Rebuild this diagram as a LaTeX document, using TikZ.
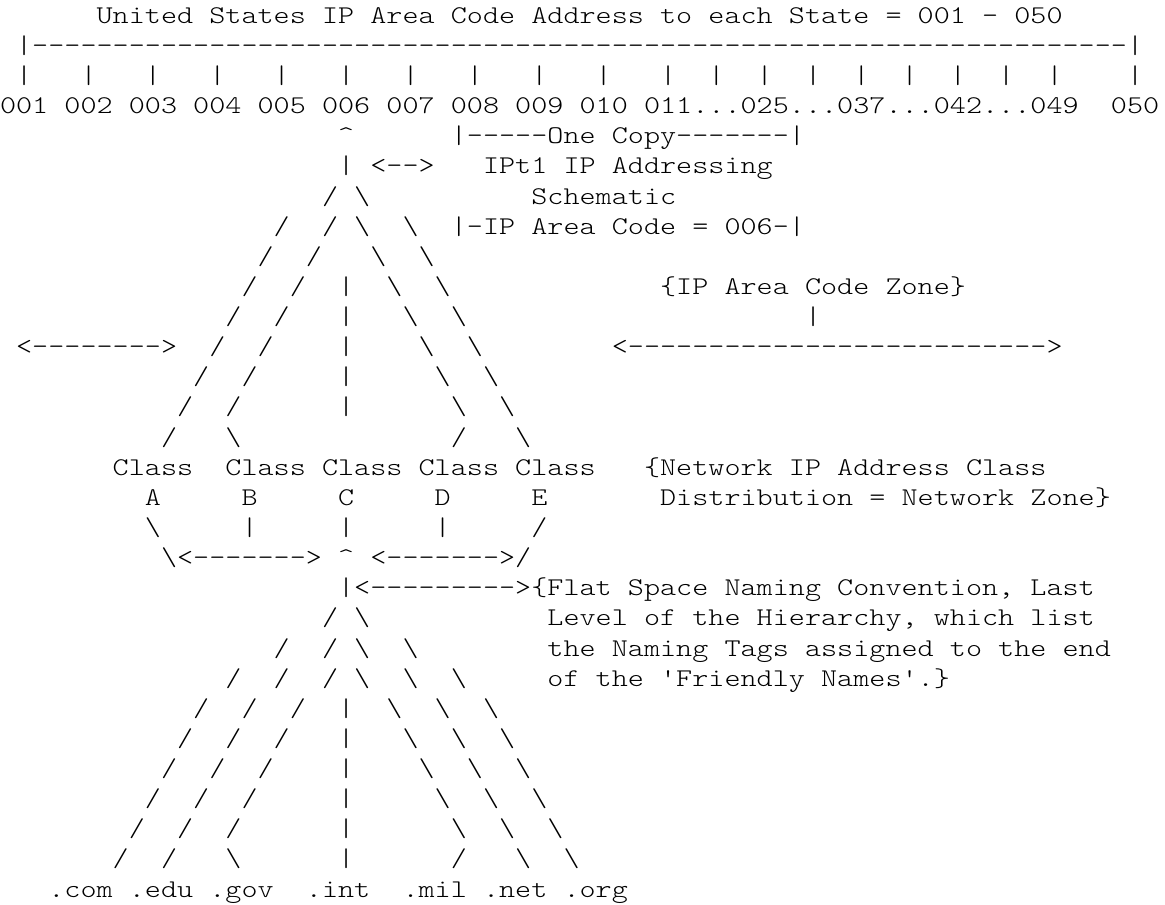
\documentclass[tikz,border=0pt]{standalone}
\usepackage{graphicx}
\usepackage{fontspec}
\setmonofont{lmmonolt10-regular.otf}
\newlength\cellw
\setlength\cellw{16.1pt}
\newcommand\gp[1]{\hspace*{#1\cellw}}
\newcommand\bsl{\textbackslash}
\newcommand\crt{\textasciicircum}
\makeatletter
\def\mrow@end{}
\def\mrow#1{\mrow@#1\mrow@end}
\def\mrow@#1{%
  \ifx#1\mrow@end\let\mrow@next\relax
  \else\ifx#1\gp\let\mrow@next\mrow@skip
  \else\def\mrow@next{\mrow@char{#1}}\fi\fi
  \mrow@next}
\def\mrow@skip#1{\hspace*{#1\cellw}\mrow@}
\def\mrow@char#1{\ifx#1~\hspace*{\cellw}\else\makebox[\cellw]{\scalebox{1.2}[1]{#1}}\fi\mrow@}
\makeatother
\tikzset{asc/.style={anchor=base west,inner sep=0pt,outer sep=0pt,text=black,
  font=\ttfamily\fontsize{25.5pt}{30.13pt}\selectfont}}
\begin{document}
\begin{tikzpicture}[x=1pt,y=1pt]
\fill[white] (0,0) rectangle (1165,905);
\useasboundingbox (0,0) rectangle (1165,905);
\node[asc] (r1) at (0,881.70) {\mrow{\gp{6}United~States~IP~Area~Code~Address~to~each~State~=~001~-~050}};
\node[asc] (r2) at (0,851.57) {\mrow{~|--------------------------------------------------------------------|}};
\node[asc] (r3) at (0,821.44) {\mrow{~|\gp{3}|\gp{3}|\gp{3}|\gp{3}|\gp{3}|\gp{3}|\gp{3}|\gp{3}|\gp{3}|\gp{3}|\gp{2}|\gp{2}|\gp{2}|\gp{2}|\gp{2}|\gp{2}|\gp{2}|\gp{2}|\gp{4}|}};
\node[asc] (r4) at (0,791.31) {\mrow{001~002~003~004~005~006~007~008~009~010~011...025...037...042...049\gp{2}050}};
\node[asc] (r5) at (0,761.18) {\mrow{\gp{21}\crt\gp{6}|-----One~Copy-------|}};
\node[asc] (r6) at (0,731.05) {\mrow{\gp{21}|~<-->\gp{3}IPt1~IP~Addressing}};
\node[asc] (r7) at (0,700.92) {\mrow{\gp{20}/~\bsl\gp{10}Schematic}};
\node[asc] (r8) at (0,670.79) {\mrow{\gp{17}/\gp{2}/~\bsl\gp{2}\bsl\gp{2}|-IP~Area~Code~=~006-|}};
\node[asc] (r9) at (0,640.66) {\mrow{\gp{16}/\gp{2}/\gp{3}\bsl\gp{2}\bsl}};
\node[asc] (r10) at (0,610.53) {\mrow{\gp{15}/\gp{2}/\gp{2}|\gp{2}\bsl\gp{2}\bsl\gp{13}\{IP~Area~Code~Zone\}}};
\node[asc] (r11) at (0,580.40) {\mrow{\gp{14}/\gp{2}/\gp{3}|\gp{3}\bsl\gp{2}\bsl\gp{21}|}};
\node[asc] (r12) at (0,550.27) {\mrow{~<-------->\gp{2}/\gp{2}/\gp{4}|\gp{4}\bsl\gp{2}\bsl\gp{8}<-------------------------->}};
\node[asc] (r13) at (0,520.14) {\mrow{\gp{12}/\gp{2}/\gp{5}|\gp{5}\bsl\gp{2}\bsl}};
\node[asc] (r14) at (0,490.01) {\mrow{\gp{11}/\gp{2}/\gp{6}|\gp{6}\bsl\gp{2}\bsl}};
\node[asc] (r15) at (0,459.88) {\mrow{\gp{10}/\gp{3}\bsl\gp{13}/\gp{3}\bsl}};
\node[asc] (r16) at (0,429.75) {\mrow{\gp{7}Class\gp{2}Class~Class~Class~Class\gp{3}\{Network~IP~Address~Class}};
\node[asc] (r17) at (0,399.62) {\mrow{\gp{9}A\gp{5}B\gp{5}C\gp{5}D\gp{5}E\gp{7}Distribution~=~Network~Zone\}}};
\node[asc] (r18) at (0,369.49) {\mrow{\gp{9}\bsl\gp{5}|\gp{5}|\gp{5}|\gp{5}/}};
\node[asc] (r19) at (0,339.36) {\mrow{\gp{10}\bsl<------->~\crt~<------->/}};
\node[asc] (r20) at (0,309.23) {\mrow{\gp{21}|<--------->\{Flat~Space~Naming~Convention,~Last}};
\node[asc] (r21) at (0,279.10) {\mrow{\gp{20}/~\bsl\gp{11}Level~of~the~Hierarchy,~which~list}};
\node[asc] (r22) at (0,248.97) {\mrow{\gp{17}/\gp{2}/~\bsl\gp{2}\bsl\gp{8}the~Naming~Tags~assigned~to~the~end}};
\node[asc] (r23) at (0,218.84) {\mrow{\gp{14}/\gp{2}/\gp{2}/~\bsl\gp{2}\bsl\gp{2}\bsl\gp{5}of~the~'Friendly~Names'.\}}};
\node[asc] (r24) at (0,188.71) {\mrow{\gp{12}/\gp{2}/\gp{2}/\gp{2}|\gp{2}\bsl\gp{2}\bsl\gp{2}\bsl}};
\node[asc] (r25) at (0,158.58) {\mrow{\gp{11}/\gp{2}/\gp{2}/\gp{3}|\gp{3}\bsl\gp{2}\bsl\gp{2}\bsl}};
\node[asc] (r26) at (0,128.45) {\mrow{\gp{10}/\gp{2}/\gp{2}/\gp{4}|\gp{4}\bsl\gp{2}\bsl\gp{2}\bsl}};
\node[asc] (r27) at (0,98.32) {\mrow{\gp{9}/\gp{2}/\gp{2}/\gp{5}|\gp{5}\bsl\gp{2}\bsl\gp{2}\bsl}};
\node[asc] (r28) at (0,68.19) {\mrow{\gp{8}/\gp{2}/\gp{2}/\gp{6}|\gp{6}\bsl\gp{2}\bsl\gp{2}\bsl}};
\node[asc] (r29) at (0,38.06) {\mrow{\gp{7}/\gp{2}/\gp{3}\bsl\gp{6}|\gp{6}/\gp{3}\bsl\gp{2}\bsl}};
\node[asc] (r30) at (0,7.93) {\mrow{\gp{3}.com~.edu~.gov\gp{2}.int\gp{2}.mil~.net~.org}};
\end{tikzpicture}
\end{document}
